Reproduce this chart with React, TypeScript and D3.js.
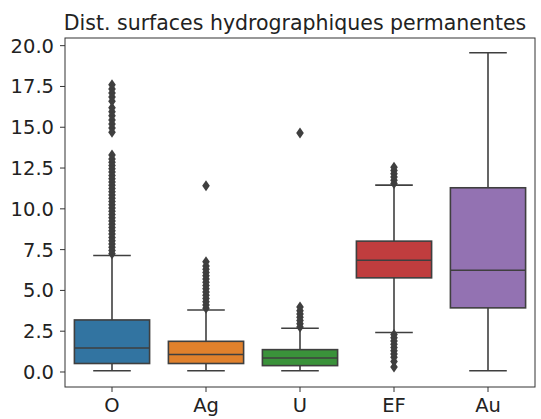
import * as d3 from "d3";

const categories = ["O", "Ag", "U", "EF", "Au"];
const colors = ["#3274a1", "#e1812c", "#3a923a", "#c03d3e", "#9372b2"];

// box stats: [whiskerLow, q1, median, q3, whiskerHigh]
const boxStats = [
  [0.08, 0.52, 1.47, 3.19, 7.14],
  [0.08, 0.52, 1.07, 1.88, 3.8],
  [0.08, 0.39, 0.86, 1.37, 2.68],
  [2.42, 5.77, 6.85, 8.02, 11.45],
  [0.08, 3.93, 6.24, 11.29, 19.57],
];

const outliersO = [
  7.25, 7.45, 7.65, 7.85, 8.05, 8.25, 8.45, 8.65, 8.85, 9.05, 9.25, 9.45, 9.65, 9.85,
  10.05, 10.25, 10.45, 10.65, 10.85, 11.05, 11.25, 11.45, 11.65, 11.85, 12.05, 12.25,
  12.45, 12.65, 12.85, 13.05, 13.3, 14.7, 14.95, 15.2, 15.45, 15.7, 15.95, 16.2, 16.6,
  16.85, 17.1, 17.35, 17.6,
];
const outliersAg = [
  3.9, 4.1, 4.3, 4.5, 4.7, 4.9, 5.1, 5.3, 5.5, 5.7, 5.9, 6.1, 6.3, 6.5, 6.75, 11.41,
];
const outliersU = [2.75, 2.95, 3.15, 3.35, 3.55, 3.75, 3.98, 14.65];
const outliersEF = [
  11.55, 11.75, 11.95, 12.15, 12.35, 12.55, 2.3, 2.1, 1.9, 1.7, 1.5, 1.3, 1.1, 0.9,
  0.65, 0.3,
];
const outliersAu: number[] = [];
const outliers = [outliersO, outliersAg, outliersU, outliersEF, outliersAu];

const yTicks = [0, 2.5, 5, 7.5, 10, 12.5, 15, 17.5, 20];

const W = 541;
const H = 419;
const M = { left: 65, right: 6, top: 38, bottom: 32 };
const LINE = "#3f3f3f";
const FONT = "DejaVu Sans, sans-serif";

export default function App() {
  const x = d3
    .scaleBand<string>()
    .domain(categories)
    .range([M.left, W - M.right]);
  const y = d3
    .scaleLinear()
    .domain([-0.92, 20.47])
    .range([H - M.bottom, M.top]);
  const bw = x.bandwidth() * 0.8;
  const cap = bw / 2;
  const diamond = "M0,-5.5L3.8,0L0,5.5L-3.8,0Z";

  return (
    <svg
      width={W}
      height={H}
      style={{ position: "absolute", left: 0, top: 0, background: "#fff" }}
    >
      <text
        x={295}
        y={30}
        textAnchor="middle"
        fontFamily={FONT}
        fontSize={20.5}
        fill="#222"
      >
        Dist. surfaces hydrographiques permanentes
      </text>

      {categories.map((c, i) => {
        const cx = (x(c) ?? 0) + x.bandwidth() / 2;
        const [wl, q1, med, q3, wh] = boxStats[i];
        return (
          <g key={c}>
            <line x1={cx} x2={cx} y1={y(q3)} y2={y(wh)} stroke={LINE} strokeWidth={1.6} />
            <line x1={cx} x2={cx} y1={y(q1)} y2={y(wl)} stroke={LINE} strokeWidth={1.6} />
            <line x1={cx - cap / 2} x2={cx + cap / 2} y1={y(wh)} y2={y(wh)} stroke={LINE} strokeWidth={1.6} />
            <line x1={cx - cap / 2} x2={cx + cap / 2} y1={y(wl)} y2={y(wl)} stroke={LINE} strokeWidth={1.6} />
            <rect
              x={cx - bw / 2}
              y={y(q3)}
              width={bw}
              height={y(q1) - y(q3)}
              fill={colors[i]}
              stroke={LINE}
              strokeWidth={1.6}
            />
            <line x1={cx - bw / 2} x2={cx + bw / 2} y1={y(med)} y2={y(med)} stroke={LINE} strokeWidth={1.6} />
            {outliers[i].map((v, j) => (
              <path key={j} d={diamond} transform={`translate(${cx},${y(v)})`} fill={LINE} />
            ))}
          </g>
        );
      })}

      <rect
        x={M.left}
        y={M.top}
        width={W - M.right - M.left}
        height={H - M.bottom - M.top}
        fill="none"
        stroke="#333"
        strokeWidth={1}
      />

      {yTicks.map((t) => (
        <g key={t}>
          <line x1={M.left - 5} x2={M.left} y1={y(t)} y2={y(t)} stroke="#333" />
          <text
            x={M.left - 11}
            y={y(t)}
            dy="0.36em"
            textAnchor="end"
            fontFamily={FONT}
            fontSize={19.5}
            fill="#222"
          >
            {t.toFixed(1)}
          </text>
        </g>
      ))}

      {categories.map((c) => {
        const cx = (x(c) ?? 0) + x.bandwidth() / 2;
        return (
          <g key={c}>
            <line x1={cx} x2={cx} y1={H - M.bottom} y2={H - M.bottom + 5} stroke="#333" />
            <text
              x={cx}
              y={H - M.bottom + 25}
              textAnchor="middle"
              fontFamily={FONT}
              fontSize={19.5}
              fill="#222"
            >
              {c}
            </text>
          </g>
        );
      })}
    </svg>
  );
}
